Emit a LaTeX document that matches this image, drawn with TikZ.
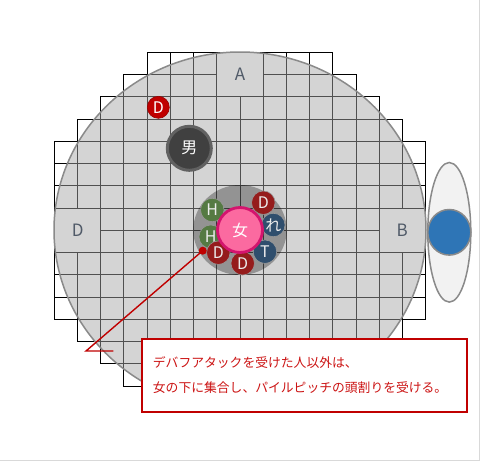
\documentclass[tikz,border=0pt]{standalone}
\usepackage{fontspec}
\newfontfamily\jp{Noto Sans CJK JP}
\definecolor{gridin}{HTML}{505050}
\definecolor{bigfill}{HTML}{D4D4D4}
\definecolor{bigline}{HTML}{8A8A8A}
\definecolor{lbl}{HTML}{505A68}
\definecolor{dred}{HTML}{951C1C}
\definecolor{dgreen}{HTML}{557A43}
\definecolor{navy}{HTML}{2F4E6D}
\definecolor{pinkf}{HTML}{FB6AA0}
\definecolor{pinkd}{HTML}{D4146E}
\definecolor{mred}{HTML}{C00000}
\definecolor{txtred}{HTML}{CC1414}
\definecolor{blue1}{HTML}{2E75B6}
\definecolor{frame}{HTML}{D9D9D9}
\def\xo{54.3}\def\yo{52.3}\def\cw{23.21}\def\ch{22.25}
\newcommand\mygridcells{%
  \foreach \r/\s in {0/4,1/3,2/2,3/1,4/0,5/0,6/0,7/0,8/0,9/0,10/0,11/0,12/1,13/2,14/3,15/4}{%
    \pgfmathtruncatemacro\e{15-\s}%
    \foreach \c in {\s,...,\e}{%
      \pgfmathtruncatemacro\skp{(((\c==7)||(\c==8))&&(\r<2)) || ((\c<2)&&((\r==7)||(\r==8))) || ((\c>13)&&((\r==7)||(\r==8)))}%
      \ifnum\skp=0
        \draw ({\xo+\c*\cw},{\yo+\r*\ch}) rectangle ++(\cw,\ch);
      \fi
    }%
  }%
  \draw ({\xo+7*\cw},{\yo}) rectangle ++({2*\cw},{2*\ch});
  \draw ({\xo},{\yo+7*\ch}) rectangle ++({2*\cw},{2*\ch});
  \draw ({\xo+14*\cw},{\yo+7*\ch}) rectangle ++({2*\cw},{2*\ch});
}
\tikzset{
  region/.style={font=\jp\fontsize{17}{17}\selectfont, text=lbl, inner sep=0pt},
  token/.style={circle, minimum size=23.5pt, inner sep=0pt, text=white!85!gray, font=\jp\fontsize{16}{16}\selectfont, draw=black!40, line width=0.6pt},
  reddot/.style={circle, fill=mred, minimum size=8pt, inner sep=0pt},
  leader/.style={draw=mred, line width=1.4pt},
  boxtext/.style={anchor=west, inner sep=0pt, text=txtred, font=\jp\fontsize{12.8}{12.8}\selectfont},
}
\begin{document}
\begin{tikzpicture}[x=1pt,y=-1pt]
\useasboundingbox (0,0) rectangle (480,461);
\fill[white] (0,0) rectangle (480,461);
\draw[frame, line width=1pt] (479.5,0) -- (479.5,460.5) -- (0,460.5);
% big arena fill
\fill[bigfill] (240,230) ellipse [x radius=186, y radius=178];
% grid
\begin{scope}[line width=0.9pt, draw=black]
\mygridcells
\end{scope}
\begin{scope}
\clip (240,230) ellipse [x radius=186, y radius=178];
\begin{scope}[line width=0.9pt, draw=gridin]
\mygridcells
\end{scope}
\end{scope}
\draw[bigline, line width=1.5pt] (240,230) ellipse [x radius=186, y radius=178];
% region labels
\node[region] (A) at (240,74) {A};
\node[region] (Dw) at (77.7,230.3) {D};
\node[region] (B) at (402.3,230.3) {B};
% right ellipse with blue marker
\draw[bigline, fill=black!5, line width=1.5pt] (449.3,232.3) ellipse [x radius=21.5, y radius=69.8];
\draw[bigline, fill=blue1, line width=1.5pt] (449.3,232.3) ellipse [x radius=21.5, y radius=22.8];
% top left red D
\node[circle, fill=mred, draw=mred!80!black, line width=0.6pt, minimum size=22pt, inner sep=0pt, text=white, font=\jp\fontsize{16}{16}\selectfont] (Dred) at (158.3,107.3) {D};
% man
\node[circle, fill=black!75, draw=black!62, line width=3pt, minimum size=44pt, inner sep=0pt, text=white, font=\jp\fontsize{16}{16}\selectfont] (man) at (189.3,148.3) {男};
% stack circle
\fill[black, opacity=0.3] (240,230) ellipse [x radius=46.7, y radius=45];
% tokens
\node[token, fill=dred] (d1) at (263.3,202.7) {D};
\node[token, fill=navy] (re) at (273.3,225) {れ};
\node[token, fill=dgreen] (h1) at (212.3,210) {H};
\node[token, fill=dgreen] (h2) at (210.7,236.7) {H};
\node[token, fill=navy] (t) at (265,251.7) {T};
\node[token, fill=dred] (d2) at (218.3,252.7) {D};
\node[token, fill=dred] (d3) at (242.7,263.3) {D};
% woman
\node[circle, fill=pinkf, draw=pinkd, line width=2.8pt, minimum size=45pt, inner sep=0pt, text=white, font=\jp\fontsize{16}{16}\selectfont] (woman) at (240,230) {女};
% leader
\node[reddot] (dot) at (202.7,250.7) {};
\coordinate (bend) at (86,351);
\coordinate (tail) at (113.3,351);
\draw[leader] (dot.center) -- (bend) -- (tail);
% text box
\node[draw=mred, line width=2pt, fill=white, minimum width=325pt, minimum height=73.3pt, inner sep=0pt, anchor=north west] (box) at (141,337.7) {};
\node[boxtext] (l1) at (152.7,362.3) {デバフアタックを受けた人以外は、};
\node[boxtext] (l2) at (152.7,387.7) {女の下に集合し、パイルピッチの頭割りを受ける。};
\end{tikzpicture}
\end{document}
